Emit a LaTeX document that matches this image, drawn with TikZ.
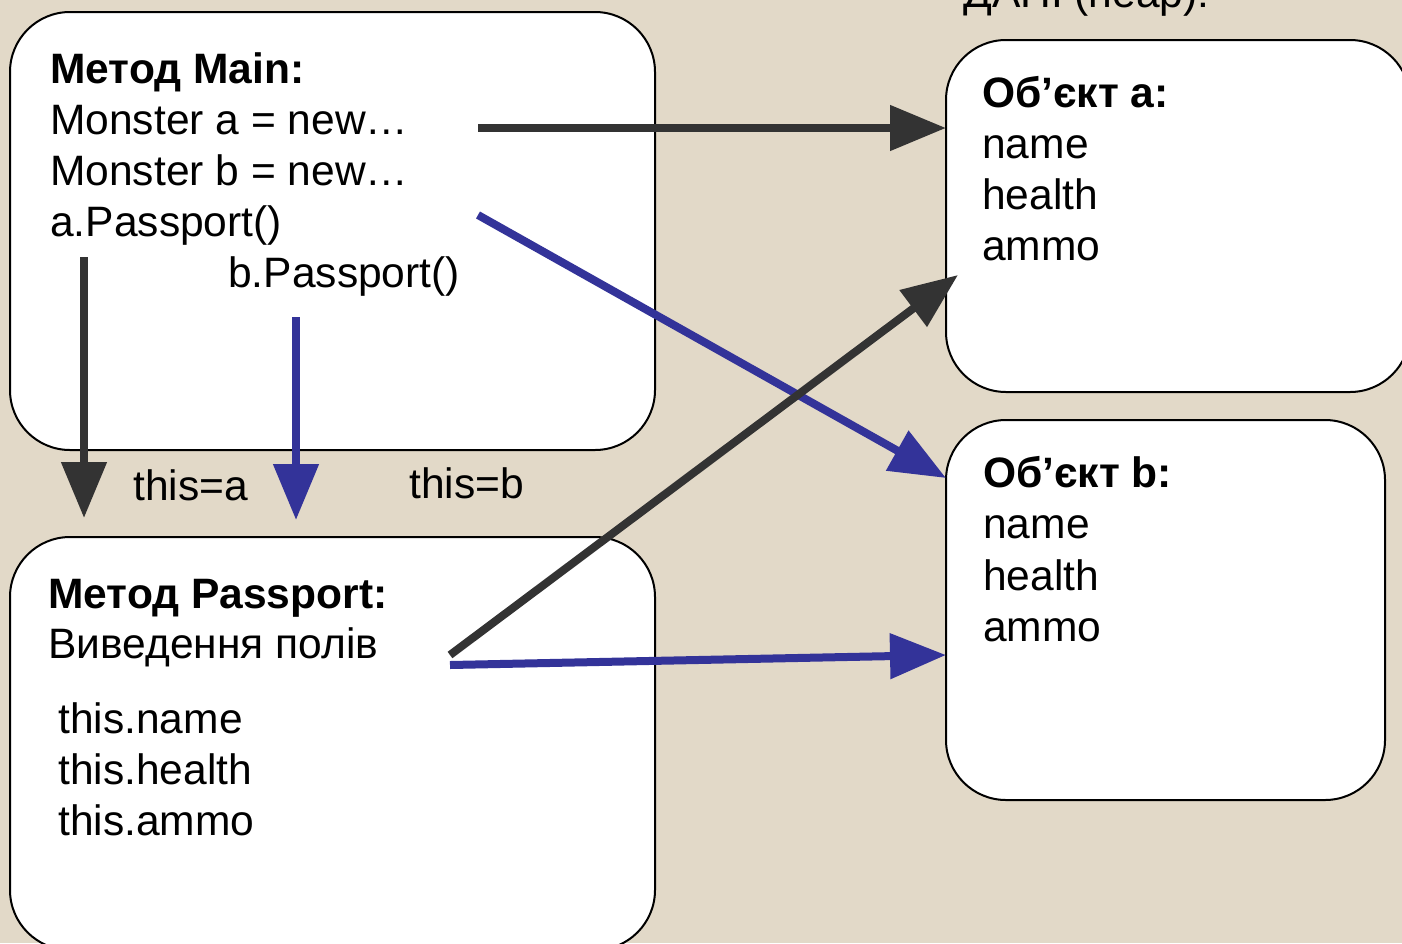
\documentclass[tikz,border=0pt]{standalone}
\usepackage{fontspec}
\setmainfont{Liberation Sans}
\usetikzlibrary{arrows.meta}
\definecolor{bg}{HTML}{E2D9C8}
\definecolor{darkline}{HTML}{333333}
\definecolor{blueline}{HTML}{333399}
\tikzset{
  box/.style={draw=black, line width=1.5pt, fill=white, rounded corners=45pt, inner sep=0pt, outer sep=0pt},
  txt/.style={anchor=base west, inner sep=0pt, font=\fontsize{31.9}{38}\selectfont},
  hdr/.style={txt, font=\fontsize{31.9}{38}\selectfont\bfseries},
  conn/.style={line width=6pt, -{Triangle[length=42pt, width=33pt]}},
  darkconn/.style={conn, draw=darkline, fill=darkline},
  blueconn/.style={conn, draw=blueline, fill=blueline}
}
\begin{document}
\begin{tikzpicture}[x=0.75pt, y=-0.75pt]
\fill[bg] (0,0) rectangle (1402,943);
\useasboundingbox (0,0) rectangle (1402,943);

% boxes
\node[box, minimum width=483.75pt, minimum height=328.5pt] (main) at (332.5,231) {};
\node[box, minimum width=483.75pt, minimum height=309.75pt] (pass) at (332.5,743.5) {};
\node[box, minimum width=348pt, minimum height=264pt] (obja) at (1178,216) {};
\node[box, minimum width=329.25pt, minimum height=285pt] (objb) at (1165.5,610) {};

% heap label (cut off at top)
\node[txt] (heap) at (963,7) {ДАНІ (heap):};

% Main text
\node[hdr] (m0) at (50,83) {Метод Main:};
\node[txt] (m1) at (50,134) {Monster a = new…};
\node[txt] (m2) at (50,185) {Monster b = new…};
\node[txt] (m3) at (50,236) {a.Passport()};
\node[txt] (m4) at (228,287) {b.Passport()};

% Passport text
\node[hdr] (p0) at (48,608) {Метод Passport:};
\node[txt] (p1) at (48,658) {Виведення полів};
\node[txt] (p2) at (58,733) {this.name};
\node[txt] (p3) at (58,784) {this.health};
\node[txt] (p4) at (58,835) {this.ammo};

% Object a
\node[hdr] (a0) at (982,107) {Об’єкт a:};
\node[txt] (a1) at (982,158) {name};
\node[txt] (a2) at (982,209) {health};
\node[txt] (a3) at (982,260) {ammo};

% Object b
\node[hdr] (b0) at (983,487) {Об’єкт b:};
\node[txt] (b1) at (983,538) {name};
\node[txt] (b2) at (983,590) {health};
\node[txt] (b3) at (983,641) {ammo};

% labels between
\node[txt] (ta) at (133,500) {this=a};
\node[txt] (tb) at (409,498) {this=b};

% connector end points
\coordinate (s1) at (478,128);
\coordinate (s2) at (478,215);
\coordinate (e2) at (946,478);
\coordinate (s3) at (84,257);
\coordinate (e3) at (84,518);
\coordinate (s4) at (296,317);
\coordinate (e4) at (296,520);
\coordinate (s5) at (450,655);
\coordinate (e5) at (958,275);
\coordinate (s6) at (450,665);
\coordinate (e6) at (946,655);

% connectors
\draw[darkconn] (s1) -- (s1 -| obja.west);
\draw[blueconn] (s2) -- (e2);
\draw[darkconn] (s3) -- (e3);
\draw[blueconn] (s4) -- (e4);
\draw[darkconn] (s5) -- (e5);
\draw[blueconn] (s6) -- (e6);
\end{tikzpicture}
\end{document}
